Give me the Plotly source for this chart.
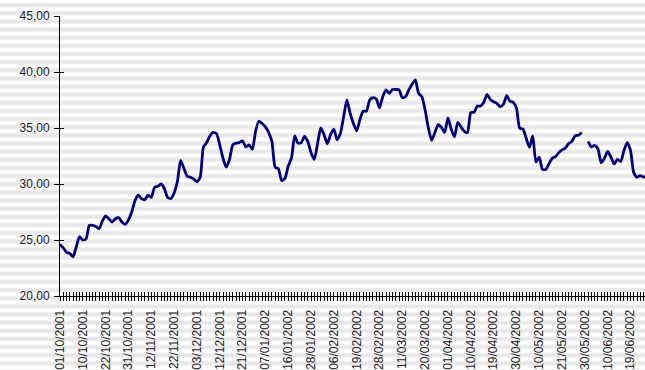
import plotly.graph_objects as go

# Daily closing price, one value per trading session (01/10/2001 onward);
# None marks the session with no quote (30/05/2002).
prices = [
    24.6, 24.3, 23.9, 23.8, 23.5, 24.4, 25.3, 25.0, 25.1, 26.3,
    26.3, 26.2, 26.0, 26.7, 27.15, 26.9, 26.6, 26.9, 27.0, 26.6,
    26.4, 26.8, 27.5, 28.5, 29.0, 28.7, 28.6, 29.0, 28.8, 29.7,
    29.8, 30.0, 29.6, 28.8, 28.7, 29.2, 30.2, 32.1, 31.4, 30.7,
    30.6, 30.45, 30.2, 30.6, 33.3, 33.7, 34.3, 34.6, 34.5, 33.5,
    32.3, 31.5, 32.2, 33.5, 33.65, 33.7, 33.85, 33.3, 33.5, 33.1,
    34.7, 35.6, 35.4, 35.1, 34.6, 33.8, 31.5, 31.35, 30.3, 30.5,
    31.6, 32.3, 34.3, 33.65, 33.7, 34.25, 33.8, 32.8, 32.2, 33.6,
    35.0, 34.4, 33.6, 34.4, 34.9, 33.95, 34.5, 36.0, 37.5, 36.3,
    35.4, 34.75, 35.75, 36.5, 36.5, 37.5, 37.7, 37.6, 36.8, 37.8,
    38.4, 38.1, 38.44, 38.44, 38.4, 37.7, 37.8, 38.4, 38.9, 39.3,
    38.1, 37.8, 36.6, 35.0, 33.9, 34.6, 35.3, 35.05, 34.6, 35.9,
    34.9, 34.2, 35.5, 35.1, 34.7, 34.6, 36.37, 36.4, 36.96, 36.96,
    37.3, 38.0, 37.55, 37.35, 37.2, 36.9, 37.1, 37.9, 37.4, 37.3,
    36.8, 35.0, 34.9, 34.1, 33.27, 34.3, 31.95, 32.4, 31.3, 31.3,
    31.8, 32.3, 32.45, 32.8, 33.05, 33.2, 33.6, 33.8, 34.3, 34.36,
    34.6, None, 33.8, 33.3, 33.45, 33.15, 31.9, 32.3, 32.9, 32.4,
    31.8, 32.2, 32.0, 33.0, 33.7, 33.0, 31.0, 30.6, 30.75, 30.6,
    30.75,
]

# Session labels shown every 7 sessions
date_labels = [
    "01/10/2001", "10/10/2001", "22/10/2001", "31/10/2001", "12/11/2001",
    "22/11/2001", "03/12/2001", "12/12/2001", "21/12/2001", "07/01/2002",
    "16/01/2002", "28/01/2002", "06/02/2002", "19/02/2002", "28/02/2002",
    "11/03/2002", "20/03/2002", "01/04/2002", "10/04/2002", "19/04/2002",
    "30/04/2002", "10/05/2002", "21/05/2002", "30/05/2002", "10/06/2002",
    "19/06/2002",
]
label_step = 7
y_ticks = [20, 25, 30, 35, 40, 45]

W, H = 645, 370
ML, MR, MT, MB = 60, 0, 16, 72
plot_w = W - ML - MR
plot_h = H - MT - MB
px_per_session = 3.26
x_range = [0, plot_w / px_per_session]
y_range = [20, 45]

sessions = list(range(len(prices)))
tick_vals = list(range(int(x_range[1]) + 1))
tick_text = [
    date_labels[i // label_step] if i % label_step == 0 and i // label_step < len(date_labels) else ""
    for i in tick_vals
]

fig = go.Figure()
fig.add_trace(go.Scatter(
    x=sessions, y=prices, mode="lines",
    line=dict(color="#00007f", width=2.8, shape="spline", smoothing=0.6),
    connectgaps=False, showlegend=False, hoverinfo="x+y",
))
# helper trace so the overlay axes (second half of the cross ticks) are drawn
fig.add_trace(go.Scatter(x=[None], y=[None], xaxis="x2", yaxis="y2",
                         showlegend=False, hoverinfo="skip"))

font = dict(family="Liberation Sans, Arial, sans-serif", size=12, color="#222222")

# horizontal striped background across the whole canvas
def px_to_paper_y(py):
    return (MT + plot_h - py) / plot_h

shapes = []
period = 8.2
c = 5.0
while c - 4 < H:
    for half, col in ((2.5, "#f1f1f1"), (1.4, "#e7e7e7")):
        shapes.append(dict(
            type="rect", xref="paper", yref="paper", layer="below",
            x0=-ML / plot_w, x1=1 + MR / plot_w,
            y0=px_to_paper_y(c + half), y1=px_to_paper_y(c - half),
            fillcolor=col, line=dict(width=0),
        ))
    c += period

axis_common = dict(showgrid=False, zeroline=False)
fig.update_layout(
    width=W, height=H,
    margin=dict(l=ML, r=MR, t=MT, b=MB, pad=0),
    paper_bgcolor="white", plot_bgcolor="rgba(0,0,0,0)",
    separators=",.",
    font=font,
    shapes=shapes,
    xaxis=dict(
        range=x_range, tickmode="array", tickvals=tick_vals, ticktext=tick_text,
        tickangle=-90, ticks="outside", ticklen=4, tickwidth=1, tickcolor="black",
        showline=True, linecolor="black", linewidth=1, ticklabelstandoff=4,
        tickfont=font, **axis_common,
    ),
    yaxis=dict(
        range=y_range, tickmode="array", tickvals=y_ticks, tickformat=".2f",
        ticks="outside", ticklen=5, tickwidth=1, tickcolor="black",
        showline=True, linecolor="black", linewidth=1, ticklabelstandoff=2,
        tickfont=font, **axis_common,
    ),
    xaxis2=dict(
        overlaying="x", anchor="y", side="bottom", range=x_range,
        tickmode="array", tickvals=tick_vals, ticks="inside", ticklen=4,
        tickwidth=1, tickcolor="black", showticklabels=False, showline=False,
        **axis_common,
    ),
    yaxis2=dict(
        overlaying="y", anchor="x", side="left", range=y_range,
        tickmode="array", tickvals=y_ticks, ticks="inside", ticklen=4,
        tickwidth=1, tickcolor="black", showticklabels=False, showline=False,
        **axis_common,
    ),
)

fig.write_html("out.html", config={"displayModeBar": False})
